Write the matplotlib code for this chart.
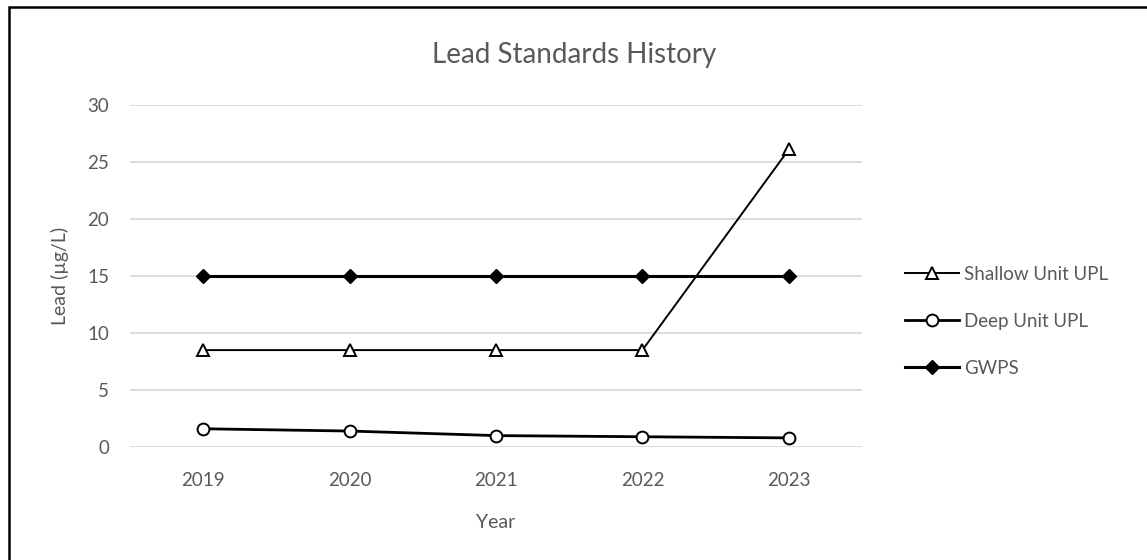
import matplotlib
matplotlib.use('Agg')
import matplotlib.pyplot as plt
from matplotlib.patches import Rectangle

plt.rcParams['font.family'] = ['Lato', 'DejaVu Sans']

years = ['2019', '2020', '2021', '2022', '2023']
shallow_upl = [8.5, 8.5, 8.5, 8.5, 26.1]
deep_upl = [1.6, 1.4, 1.0, 0.9, 0.8]
gwps = [15, 15, 15, 15, 15]

TEXT = '#595959'
GRID = '#D9D9D9'

fig = plt.figure(figsize=(11.47, 5.6), dpi=100)
ax = fig.add_axes([130/1147, 1 - 447/560, 732/1147, 342/560])

x = list(range(len(years)))
ax.plot(x, shallow_upl, color='black', lw=1.4, marker='^', ms=8.5,
        mfc='white', mec='black', mew=1.4, label='Shallow Unit UPL', zorder=3)
ax.plot(x, deep_upl, color='black', lw=2.0, marker='o', ms=8.5,
        mfc='white', mec='black', mew=1.4, label='Deep Unit UPL', zorder=3)
ax.plot(x, gwps, color='black', lw=2.2, marker='D', ms=7,
        mfc='black', mec='black', label='GWPS', zorder=3)

ax.set_xlim(-0.5, len(years) - 0.5)
ax.set_ylim(0, 30)
ax.set_yticks(range(0, 31, 5))
ax.set_xticks(x)
ax.set_xticklabels(years)
ax.yaxis.grid(True, color=GRID, lw=1.3)
ax.set_axisbelow(True)
for s in ax.spines.values():
    s.set_visible(False)
ax.tick_params(length=0, labelsize=13.5, labelcolor=TEXT)
ax.tick_params(axis='y', pad=15)
ax.tick_params(axis='x', pad=18)

ax.set_xlabel('Year', fontsize=14, color=TEXT, labelpad=18)
ax.set_ylabel('Lead (µg/L)', fontsize=14, color=TEXT, labelpad=13)
fig.text(574/1147, 1 - 55/560, 'Lead Standards History', ha='center', va='center',
         fontsize=20, color=TEXT)

leg = ax.legend(loc='center left', bbox_to_anchor=(905/1147, 1 - 321/560),
                bbox_transform=fig.transFigure, frameon=False, fontsize=13.5,
                handlelength=2.9, handletextpad=0.25, labelspacing=1.6,
                borderpad=0, borderaxespad=0)
for t in leg.get_texts():
    t.set_color(TEXT)

# outer chart frame
fig.patches.append(Rectangle((9/1147, -0.1), 1.2, 1 - 7/560 + 0.1,
                             transform=fig.transFigure, fill=False,
                             ec='black', lw=1.8, zorder=10))

fig.savefig('out.png', dpi=100)
